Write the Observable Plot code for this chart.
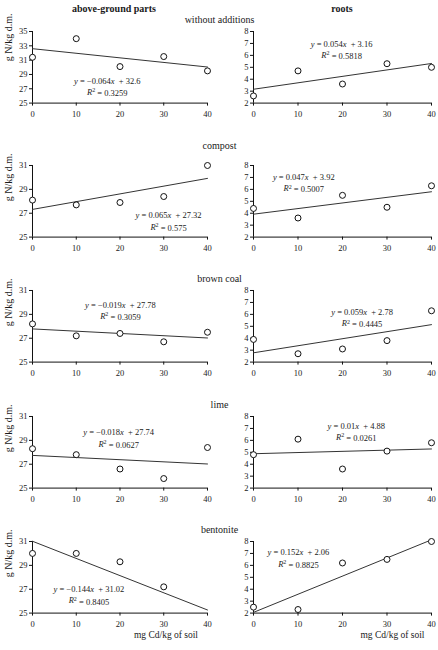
<!DOCTYPE html>
<html>
<head>
<meta charset="utf-8">
<script src="https://cdn.jsdelivr.net/npm/d3@7"></script>
<script src="https://cdn.jsdelivr.net/npm/@observablehq/plot@0.6"></script>
<style>
  html, body { margin: 0; padding: 0; background: #fff; }
  #fig { position: relative; width: 438px; height: 650px; background: #fff;
         font-family: "Liberation Serif", "Times New Roman", serif; color: #1a1a1a; }
  .lbl { position: absolute; white-space: nowrap; transform: translate(-50%, -50%); line-height: 1; }
  .head { font-weight: bold; font-size: 10px; }
  .treat { font-size: 10px; }
  #fig svg { position: absolute; overflow: visible; }
</style>
</head>
<body>
<div id="fig"></div>
<script>
// Cd dose in soil (mg Cd/kg of soil)
const cadmium = [0, 10, 20, 30, 40];
const treatments = ["without additions", "compost", "brown coal", "lime", "bentonite"];

// N content in above-ground parts (g N/kg d.m.), one row per treatment
const shootN = [
  [31.4, 34.0, 30.1, 31.5, 29.5],
  [28.1, 27.7, 27.9, 28.4, 31.0],
  [28.2, 27.2, 27.4, 26.7, 27.5],
  [28.3, 27.8, 26.6, 25.8, 28.4],
  [30.0, 30.0, 29.3, 27.2, 24.2]
];
// N content in roots (g N/kg d.m.)
const rootN = [
  [2.6, 4.7, 3.6, 5.3, 5.0],
  [4.4, 3.6, 5.5, 4.5, 6.3],
  [3.9, 2.7, 3.1, 3.8, 6.3],
  [4.8, 6.1, 3.6, 5.1, 5.8],
  [2.5, 2.3, 6.2, 6.5, 8.0]
];

// linear trend lines y = a·x + b and their R²
const shootSlope = [-0.064, 0.065, -0.019, -0.018, -0.144];
const shootIntercept = [32.6, 27.32, 27.78, 27.74, 31.02];
const shootR2 = [0.3259, 0.575, 0.3059, 0.0627, 0.8405];
const rootSlope = [0.054, 0.047, 0.059, 0.01, 0.152];
const rootIntercept = [3.16, 3.92, 2.78, 4.88, 2.06];
const rootR2 = [0.5818, 0.5007, 0.4445, 0.0261, 0.8825];

// axis ticks
const xTicks = [0, 10, 20, 30, 40];
const shootTicksFirst = [25, 27, 29, 31, 33, 35];
const shootTicks = [25, 27, 29, 31];
const rootTicks = [2, 3, 4, 5, 6, 7, 8];

const columnTitles = ["above-ground parts", "roots"];
const yLabel = "g N/kg d.m.";
const xLabel = "mg Cd/kg of soil";

// where each equation sits, in (Cd dose, N content) units
const shootEqAt = [[17.1, 28.1], [31.1, 26.8], [20.1, 29.8], [19.7, 29.66], [12.9, 27.0]];
const rootEqAt = [[19.8, 6.97], [11.3, 7.03], [24.4, 6.19], [23.1, 7.22], [10.1, 7.08]];

// ---- layout ----
const fig = document.getElementById("fig");
const rowTop = [30.7, 164.8, 290.4, 415.5, 540.7];
const rowLabelY = [20, 145.5, 279, 405, 530];
const frameH = 71.6;
const cols = [
  { frameLeft: 32, frameW: 175, mL: 32, mR: 10, title: 114 },
  { frameLeft: 253, frameW: 178, mL: 32, mR: 7, title: 342 }
];
const mT = 8, mB = 30;

function addLabel(text, x, y, cls) {
  const d = document.createElement("div");
  d.className = "lbl " + cls;
  d.textContent = text;
  d.style.left = x + "px";
  d.style.top = y + "px";
  fig.appendChild(d);
}

columnTitles.forEach((t, i) => addLabel(t, cols[i].title, 9, "head"));
treatments.forEach((t, i) => addLabel(t, 219.5, rowLabelY[i], "treat"));

const fmt = v => String(v).replace("-", "\u2212");

function panel(row, col) {
  const isShoot = col === 0;
  const values = isShoot ? shootN[row] : rootN[row];
  const slope = isShoot ? shootSlope[row] : rootSlope[row];
  const intercept = isShoot ? shootIntercept[row] : rootIntercept[row];
  const r2 = isShoot ? shootR2[row] : rootR2[row];
  const ticks = isShoot ? (row === 0 ? shootTicksFirst : shootTicks) : rootTicks;
  const domain = [ticks[0], ticks[ticks.length - 1]];
  const eqAt = isShoot ? shootEqAt[row] : rootEqAt[row];
  const c = cols[col];

  const points = cadmium.map((x, i) => ({ x, y: values[i] }))
    .filter(d => d.y >= domain[0] && d.y <= domain[1]);
  const xs = [cadmium[0], cadmium[cadmium.length - 1]];
  const fit = xs.map(x => ({ x, y: intercept + slope * x }));

  const marks = [
    Plot.axisX({ ticks: xTicks, tickFormat: d => String(d), tickSize: 3, tickPadding: 5, label: null, stroke: "#111" }),
    Plot.axisY({ ticks, tickFormat: d => String(d), tickSize: 3, tickPadding: 2, label: null, stroke: "#111" }),
    Plot.ruleX([cadmium[0]], { stroke: "#111", strokeWidth: 1 }),
    Plot.ruleY([domain[0]], { stroke: "#111", strokeWidth: 1 }),
    Plot.line(fit, { x: "x", y: "y", stroke: "#333", strokeWidth: 1 }),
    Plot.dot(points, { x: "x", y: "y", r: 3, stroke: "#111", strokeWidth: 1, fill: "#fff" }),
    Plot.text([`y = ${fmt(slope)}x  + ${fmt(intercept)}`], {
      x: () => eqAt[0], y: () => eqAt[1], text: d => d, textAnchor: "middle", fill: "#1a1a1a"
    }),
    Plot.text([`R² = ${r2}`], {
      x: () => eqAt[0], y: () => eqAt[1], dy: 11.5, text: d => d, textAnchor: "middle", fill: "#1a1a1a"
    })
  ];
  if (isShoot) {
    marks.push(Plot.text([yLabel], {
      frameAnchor: "left", rotate: -90, dx: -24, dy: row === 0 ? -6 : 0, text: d => d, fontSize: 10, fill: "#1a1a1a"
    }));
  }
  if (row === treatments.length - 1) {
    marks.push(Plot.text([xLabel], {
      frameAnchor: "bottom", dx: isShoot ? 46 : 50, dy: 25, text: d => d, fontSize: 9.5, fill: "#1a1a1a"
    }));
  }

  const svg = Plot.plot({
    width: c.mL + c.frameW + c.mR,
    height: mT + frameH + mB,
    marginLeft: c.mL, marginRight: c.mR, marginTop: mT, marginBottom: mB,
    style: { fontFamily: "Liberation Serif, Times New Roman, serif", fontSize: "8.5px",
             background: "transparent", color: "#1a1a1a", overflow: "visible" },
    x: { domain: [0, 40] },
    y: { domain },
    marks
  });

  // italic variables and a raised exponent in the trend equations
  d3.select(svg).selectAll("text").each(function () {
    const t = this.textContent;
    let m;
    const el = d3.select(this);
    if ((m = /^y = (\S+)x  \+ (\S+)$/.exec(t))) {
      el.text(null).style("white-space", "pre");
      el.append("tspan").attr("font-style", "italic").text("y");
      el.append("tspan").text(` = ${m[1]}`);
      el.append("tspan").attr("font-style", "italic").text("x");
      el.append("tspan").text(`  + ${m[2]}`);
    } else if ((m = /^R² = (\S+)$/.exec(t))) {
      el.text(null);
      el.append("tspan").attr("font-style", "italic").text("R");
      el.append("tspan").attr("font-size", "6px").attr("dy", "-0.45em").text("2");
      el.append("tspan").attr("dy", "0.45em").text(` = ${m[1]}`);
    }
  });

  svg.style.left = (c.frameLeft - c.mL) + "px";
  svg.style.top = (rowTop[row] - mT) + "px";
  fig.appendChild(svg);
}

for (let r = 0; r < treatments.length; r++) {
  panel(r, 0);
  panel(r, 1);
}
</script>
</body>
</html>
